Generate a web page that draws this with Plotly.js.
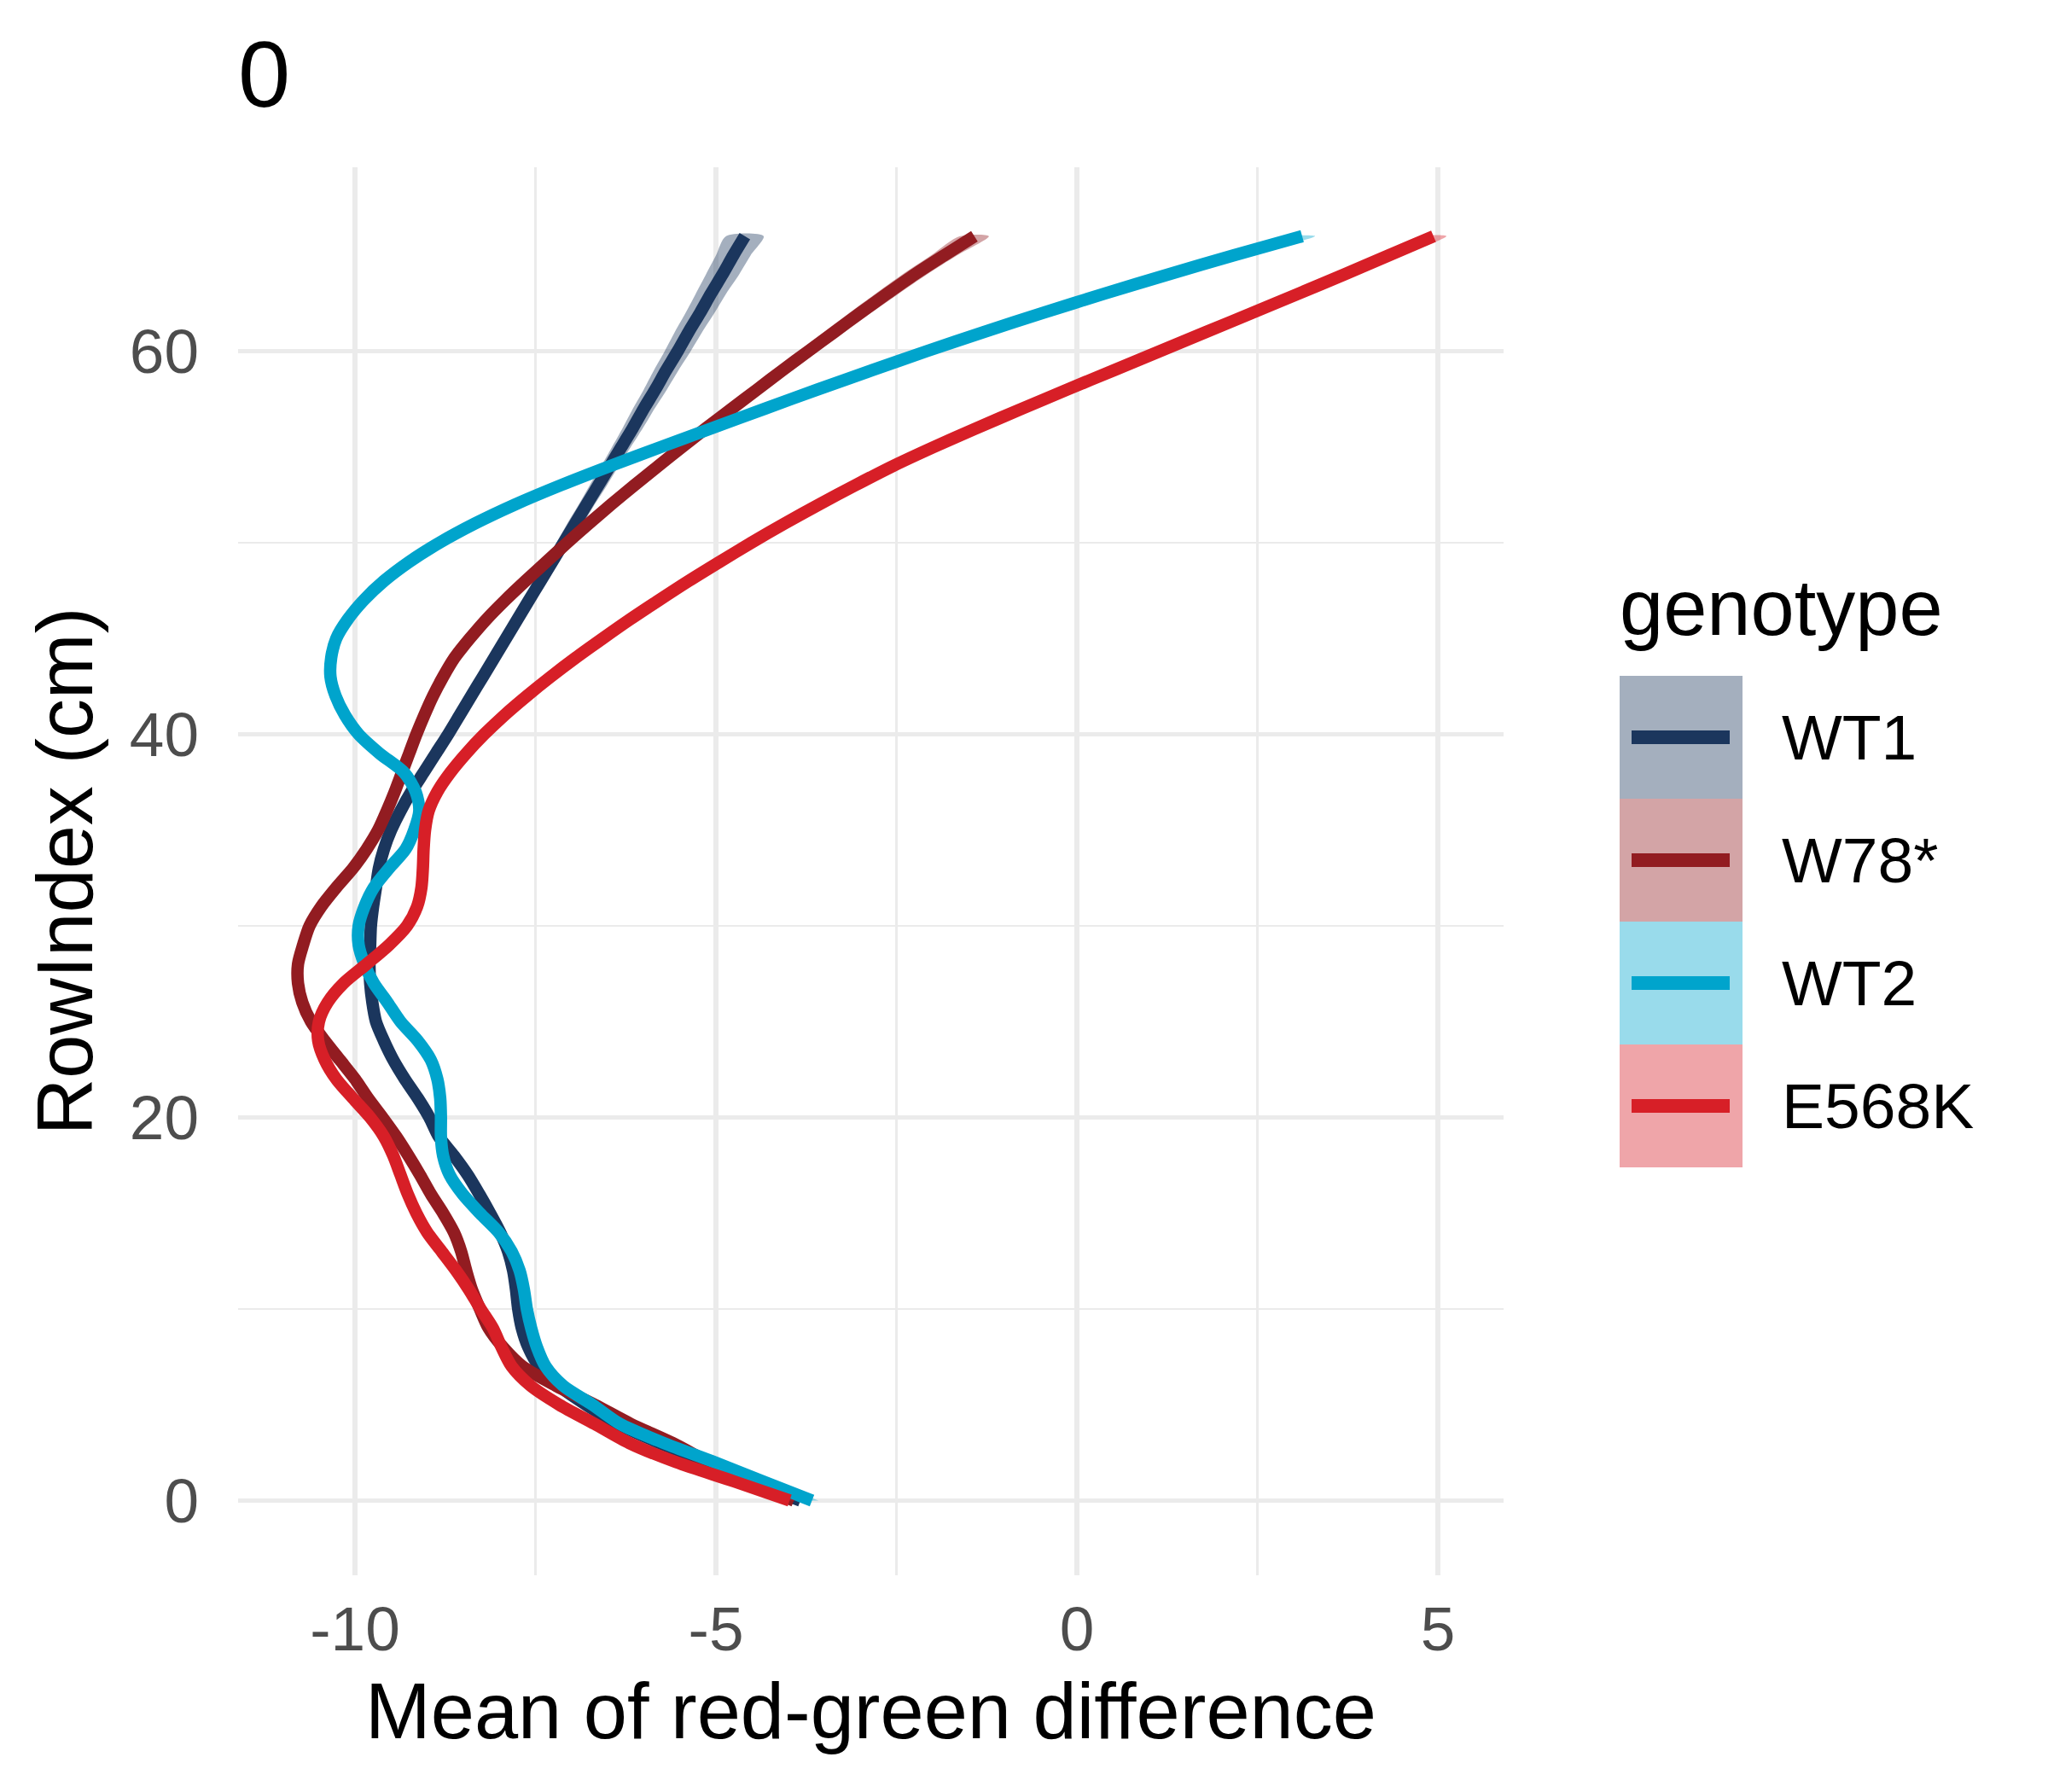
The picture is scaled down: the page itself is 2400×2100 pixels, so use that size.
<!DOCTYPE html>
<html>
<head>
<meta charset="utf-8">
<script src="https://cdn.plot.ly/plotly-3.0.1.min.js"></script>
<style>
  html, body { margin: 0; padding: 0; background: #ffffff; }
  #chart { width: 2400px; height: 2100px; }
</style>
</head>
<body>
<div id="chart"></div>
<script>
// RowIndex (cm), shared by every smoothed curve
var row_index = [0, 1, 2, 3, 4, 5, 6, 7, 8, 9, 10, 11, 12, 13, 14, 15, 16, 17, 18, 19,
                 20, 21, 22, 23, 24, 25, 26, 27, 28, 29, 30, 31, 32, 33, 34, 35, 36, 37, 38, 39,
                 40, 41, 42, 43, 44, 45, 46, 47, 48, 49, 50, 51, 52, 53, 54, 55, 56, 57, 58, 59,
                 60, 61, 62, 63, 64, 65, 66];

var genotypes = ['WT1', 'W78*', 'WT2', 'E568K'];

// mean of red-green difference
var wt1_mean = [-3.83, -4.50, -5.10, -5.78, -6.36, -6.80, -7.18, -7.45, -7.60, -7.69,
                -7.74, -7.77, -7.81, -7.88, -7.99, -8.13, -8.28, -8.44, -8.63, -8.84,
                -8.97, -9.13, -9.31, -9.47, -9.60, -9.71, -9.76, -9.79, -9.80, -9.79,
                -9.78, -9.75, -9.71, -9.67, -9.60, -9.50, -9.37, -9.22, -9.05, -8.88,
                -8.71, -8.55, -8.39, -8.23, -8.07, -7.91, -7.75, -7.59, -7.43, -7.27,
                -7.11, -6.95, -6.79, -6.63, -6.47, -6.31, -6.15, -6.00, -5.84, -5.69,
                -5.53, -5.38, -5.22, -5.07, -4.91, -4.76, -4.60];

var w78_mean = [-3.92, -4.55, -5.10, -5.60, -6.18, -6.68, -7.22, -7.68, -7.95, -8.15,
                -8.27, -8.38, -8.46, -8.53, -8.63, -8.78, -8.95, -9.10, -9.26, -9.43,
                -9.62, -9.82, -10.00, -10.21, -10.42, -10.61, -10.73, -10.79, -10.79, -10.72,
                -10.63, -10.47, -10.26, -10.03, -9.84, -9.68, -9.56, -9.45, -9.35, -9.25,
                -9.15, -9.04, -8.92, -8.78, -8.62, -8.41, -8.18, -7.92, -7.64, -7.35,
                -7.06, -6.76, -6.45, -6.13, -5.80, -5.47, -5.13, -4.78, -4.43, -4.08,
                -3.72, -3.36, -3.00, -2.63, -2.25, -1.84, -1.42];

var wt2_mean = [-3.67, -4.35, -5.02, -5.72, -6.33, -6.71, -7.12, -7.36, -7.48, -7.56,
                -7.62, -7.66, -7.72, -7.83, -8.01, -8.27, -8.51, -8.69, -8.78, -8.81,
                -8.81, -8.82, -8.86, -8.95, -9.13, -9.37, -9.55, -9.74, -9.87, -9.95,
                -9.95, -9.87, -9.74, -9.53, -9.30, -9.18, -9.11, -9.16, -9.32, -9.66,
                -9.95, -10.14, -10.27, -10.34, -10.33, -10.26, -10.10, -9.88, -9.60, -9.25,
                -8.83, -8.34, -7.78, -7.15, -6.47, -5.76, -5.04, -4.32, -3.59, -2.84,
                -2.08, -1.29, -0.47, 0.38, 1.26, 2.17, 3.12];

var e568k_mean = [-3.98, -4.75, -5.55, -6.20, -6.68, -7.17, -7.57, -7.83, -7.97, -8.09,
                  -8.26, -8.42, -8.60, -8.80, -9.00, -9.15, -9.27, -9.37, -9.47, -9.60,
                  -9.79, -10.03, -10.26, -10.42, -10.51, -10.50, -10.38, -10.16, -9.84, -9.53,
                  -9.28, -9.14, -9.08, -9.06, -9.05, -9.03, -8.98, -8.86, -8.68, -8.46,
                  -8.21, -7.93, -7.62, -7.29, -6.94, -6.57, -6.19, -5.79, -5.38, -4.95,
                  -4.51, -4.05, -3.57, -3.07, -2.55, -1.98, -1.38, -0.76, -0.13, 0.51,
                  1.15, 1.79, 2.43, 3.07, 3.70, 4.32, 4.94];

// half width of the confidence ribbon around each line
var wt1_band = [0.10, 0.09, 0.08, 0.08, 0.07, 0.07, 0.07, 0.07, 0.07, 0.07,
                0.07, 0.07, 0.07, 0.07, 0.07, 0.07, 0.07, 0.07, 0.07, 0.07,
                0.07, 0.07, 0.07, 0.07, 0.07, 0.07, 0.07, 0.07, 0.07, 0.07,
                0.07, 0.07, 0.07, 0.07, 0.07, 0.07, 0.07, 0.07, 0.07, 0.07,
                0.07, 0.07, 0.07, 0.07, 0.08, 0.08, 0.08, 0.09, 0.09, 0.10,
                0.10, 0.11, 0.11, 0.12, 0.12, 0.13, 0.14, 0.15, 0.16, 0.17,
                0.18, 0.19, 0.20, 0.21, 0.23, 0.24, 0.26];

var w78_band = [0.09, 0.08, 0.07, 0.06, 0.06, 0.06, 0.06, 0.06, 0.06, 0.06,
                0.06, 0.06, 0.06, 0.06, 0.06, 0.06, 0.06, 0.06, 0.06, 0.06,
                0.06, 0.06, 0.06, 0.06, 0.06, 0.06, 0.06, 0.06, 0.06, 0.06,
                0.06, 0.06, 0.06, 0.06, 0.06, 0.06, 0.06, 0.06, 0.06, 0.06,
                0.06, 0.06, 0.06, 0.06, 0.06, 0.06, 0.06, 0.06, 0.06, 0.06,
                0.06, 0.06, 0.07, 0.07, 0.08, 0.08, 0.09, 0.10, 0.11, 0.12,
                0.13, 0.14, 0.15, 0.16, 0.17, 0.18, 0.20];

var wt2_band = [0.09, 0.08, 0.07, 0.06, 0.06, 0.06, 0.06, 0.06, 0.06, 0.06,
                0.06, 0.06, 0.06, 0.06, 0.06, 0.06, 0.06, 0.06, 0.06, 0.06,
                0.06, 0.06, 0.06, 0.06, 0.06, 0.06, 0.06, 0.06, 0.06, 0.06,
                0.06, 0.06, 0.06, 0.06, 0.06, 0.06, 0.06, 0.06, 0.06, 0.06,
                0.06, 0.06, 0.06, 0.06, 0.06, 0.06, 0.06, 0.06, 0.06, 0.06,
                0.06, 0.06, 0.06, 0.07, 0.07, 0.08, 0.08, 0.09, 0.10, 0.11,
                0.12, 0.13, 0.14, 0.15, 0.16, 0.17, 0.18];

var e568k_band = [0.09, 0.08, 0.07, 0.06, 0.06, 0.06, 0.06, 0.06, 0.06, 0.06,
                  0.06, 0.06, 0.06, 0.06, 0.06, 0.06, 0.06, 0.06, 0.06, 0.06,
                  0.06, 0.06, 0.06, 0.06, 0.06, 0.06, 0.06, 0.06, 0.06, 0.06,
                  0.06, 0.06, 0.06, 0.06, 0.06, 0.06, 0.06, 0.06, 0.06, 0.06,
                  0.06, 0.06, 0.06, 0.06, 0.06, 0.06, 0.06, 0.06, 0.06, 0.06,
                  0.06, 0.06, 0.06, 0.07, 0.07, 0.08, 0.08, 0.09, 0.10, 0.11,
                  0.12, 0.13, 0.14, 0.15, 0.16, 0.17, 0.18];

var x_ticks = [-10, -5, 0, 5];
var y_ticks = [0, 20, 40, 60];

var line_colors = ['#1B365D', '#921C21', '#00A4CC', '#D71F27'];
var band_colors = ['rgba(27,54,93,0.4)', 'rgba(146,28,33,0.4)', 'rgba(0,164,204,0.4)', 'rgba(215,31,39,0.4)'];

var means = [wt1_mean, w78_mean, wt2_mean, e568k_mean];
var bands = [wt1_band, w78_band, wt2_band, e568k_band];

var FONT = 'Liberation Sans, Arial, sans-serif';
var W = 2400, H = 2100;
var M = { l: 279, r: 638, t: 196, b: 254 };

// pixel position -> paper fraction (legend is placed by pixels)
function px(X) { return (X - M.l) / (W - M.l - M.r); }
function py(Y) { return (H - M.b - Y) / (H - M.t - M.b); }

var data = [];
for (var g = 0; g < genotypes.length; g++) {
    var lo = [], yb = [];
    for (var i = 0; i < row_index.length; i++) {
        lo.push(means[g][i] - bands[g][i]);
        yb.push(row_index[i]);
    }
    for (var j = row_index.length - 1; j >= 0; j--) {
        lo.push(means[g][j] + bands[g][j]);
        yb.push(row_index[j]);
    }
    data.push({ x: lo, y: yb, mode: 'lines', fill: 'toself',
                fillcolor: band_colors[g], line: { width: 0, shape: 'spline', smoothing: 0.8 },
                hoverinfo: 'skip', showlegend: false });
    data.push({ x: means[g], y: row_index, mode: 'lines', name: genotypes[g],
                line: { color: line_colors[g], width: 14.5, shape: 'spline', smoothing: 0.8 },
                showlegend: false });
}

// hand-made legend: tall filled keys with a line through each
var shapes = [], annotations = [];
var key_top = 792, key_h = 144;
for (var k = 0; k < genotypes.length; k++) {
    var y0 = key_top + k * key_h, yc = y0 + key_h / 2;
    shapes.push({ type: 'rect', xref: 'paper', yref: 'paper',
                  x0: px(1898), x1: px(2042), y0: py(y0), y1: py(y0 + key_h),
                  fillcolor: band_colors[k], line: { width: 0 } });
    shapes.push({ type: 'line', xref: 'paper', yref: 'paper',
                  x0: px(1912), x1: px(2027), y0: py(yc), y1: py(yc),
                  line: { color: line_colors[k], width: 16 } });
    annotations.push({ text: genotypes[k], xref: 'paper', yref: 'paper',
                       x: px(2086), y: py(yc), xanchor: 'left', yanchor: 'middle',
                       showarrow: false, font: { family: FONT, size: 75, color: '#000000' } });
}
annotations.push({ text: 'genotype', xref: 'paper', yref: 'paper',
                   x: px(1896), y: py(712), xanchor: 'left', yanchor: 'middle',
                   showarrow: false, font: { family: FONT, size: 92, color: '#000000' } });

var layout = {
    width: W, height: H,
    margin: { l: M.l, r: M.r, t: M.t, b: M.b, pad: 0 },
    paper_bgcolor: '#ffffff', plot_bgcolor: '#ffffff',
    font: { family: FONT, color: '#000000' },
    showlegend: false,
    title: { text: '0', x: px(279), xref: 'paper', xanchor: 'left',
             y: 1 - 86 / H, yref: 'container', yanchor: 'middle',
             font: { family: FONT, size: 110, color: '#000000' } },
    xaxis: { range: [-11.62, 5.91], tickmode: 'array', tickvals: x_ticks,
             ticktext: x_ticks.map(String), ticks: '', showline: false, zeroline: false,
             showgrid: true, gridcolor: '#EBEBEB', gridwidth: 5.5,
             minor: { dtick: 2.5, tick0: 0, showgrid: true, gridcolor: '#EBEBEB', gridwidth: 2.8, ticks: '' },
             tickfont: { family: FONT, size: 73, color: '#4D4D4D' },
             ticklabelstandoff: 14, automargin: false,
             title: { text: 'Mean of red-green difference', standoff: 24,
                      font: { family: FONT, size: 92, color: '#000000' } } },
    yaxis: { range: [-3.9, 69.6], tickmode: 'array', tickvals: y_ticks,
             ticktext: y_ticks.map(String), ticks: '', showline: false, zeroline: false,
             showgrid: true, gridcolor: '#EBEBEB', gridwidth: 5.5,
             minor: { dtick: 10, tick0: 0, showgrid: true, gridcolor: '#EBEBEB', gridwidth: 2.8, ticks: '' },
             tickfont: { family: FONT, size: 73, color: '#4D4D4D' },
             ticklabelstandoff: 45, automargin: false,
             title: { text: 'RowIndex (cm)', standoff: 12,
                      font: { family: FONT, size: 92, color: '#000000' } } },
    shapes: shapes,
    annotations: annotations
};

var config = { displayModeBar: false, responsive: false, staticPlot: true };

Plotly.newPlot('chart', data, layout, config);
</script>
</body>
</html>
